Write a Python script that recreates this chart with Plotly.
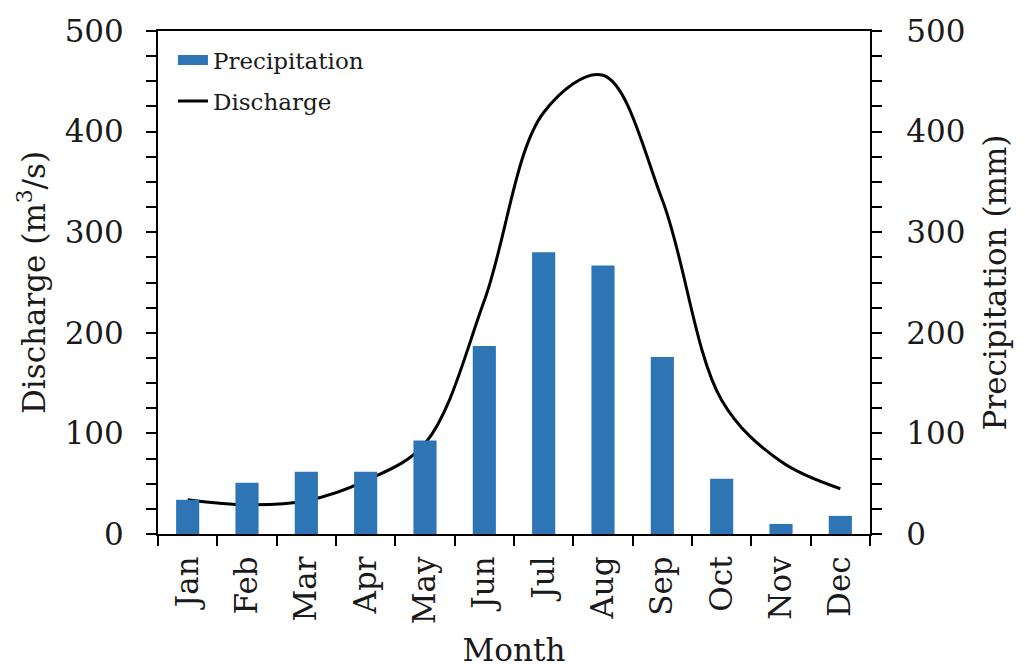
import plotly.graph_objects as go

months = ["Jan", "Feb", "Mar", "Apr", "May", "Jun",
          "Jul", "Aug", "Sep", "Oct", "Nov", "Dec"]
precipitation_mm = [34, 51, 62, 62, 93, 187, 280, 267, 176, 55, 10, 18]
discharge_m3s = [34, 29, 33, 53, 90, 232, 419, 456, 332, 133, 72, 45]

FONT = "DejaVu Serif"
INK = "#1a1a1a"
BAR_BLUE = "#2E75B6"

fig = go.Figure()

# Monthly precipitation bars on the right-hand axis
fig.add_trace(go.Bar(
    x=months, y=precipitation_mm, name="Precipitation",
    marker=dict(color=BAR_BLUE, line=dict(width=0)),
    width=0.39, yaxis="y2", showlegend=False,
))

# Legend key for the bars, drawn as a wide block
fig.add_trace(go.Scatter(
    x=[None], y=[None], name="Precipitation", mode="lines",
    line=dict(color=BAR_BLUE, width=10), yaxis="y2", legendgroup="p",
))

# Smoothed discharge curve on the left-hand axis
fig.add_trace(go.Scatter(
    x=months, y=discharge_m3s, name="Discharge",
    mode="lines", line=dict(color="black", width=3, shape="spline", smoothing=1.0),
    yaxis="y", legendgroup="d",
))

tick_font = dict(family=FONT, size=31, color=INK)
title_font = dict(family=FONT, size=31, color=INK)

fig.update_layout(
    width=1025, height=669,
    margin=dict(l=158, r=155, t=31, b=135),
    paper_bgcolor="white", plot_bgcolor="white",
    showlegend=True,
    legend=dict(
        x=0.021, y=0.985, xanchor="left", yanchor="top",
        font=dict(family=FONT, size=23, color=INK),
        bgcolor="rgba(0,0,0,0)", tracegroupgap=8,
        itemwidth=30,
    ),
    xaxis=dict(
        type="category", tickson="boundaries", automargin=False,
        showline=True, linecolor="black", linewidth=2, mirror=True,
        ticks="outside", ticklen=10, tickwidth=2, tickcolor="black",
        tickangle=-90, tickfont=tick_font, showgrid=False,
        ticklabelstandoff=8,
        title=dict(text="Month", font=title_font, standoff=16),
    ),
    yaxis=dict(
        range=[0, 500], dtick=100, side="left", automargin=False,
        showline=True, linecolor="black", linewidth=2,
        ticks="outside", ticklen=10, tickwidth=2, tickcolor="black",
        minor=dict(dtick=25, ticks="outside", ticklen=10, tickwidth=2, tickcolor="black"),
        tickfont=tick_font, showgrid=False, zeroline=False,
        ticklabelstandoff=16,
        title=dict(text="Discharge (m<sup>3</sup>/s)", font=title_font, standoff=10),
    ),
    yaxis2=dict(
        range=[0, 500], dtick=100, side="right", overlaying="y", automargin=False,
        showline=True, linecolor="black", linewidth=2,
        ticks="outside", ticklen=10, tickwidth=2, tickcolor="black",
        minor=dict(dtick=25, ticks="outside", ticklen=10, tickwidth=2, tickcolor="black"),
        tickfont=tick_font, showgrid=False, zeroline=False,
        ticklabelstandoff=18,
        title=dict(text="Precipitation (mm)", font=title_font, standoff=20),
    ),
)

fig.write_html("out.html")
